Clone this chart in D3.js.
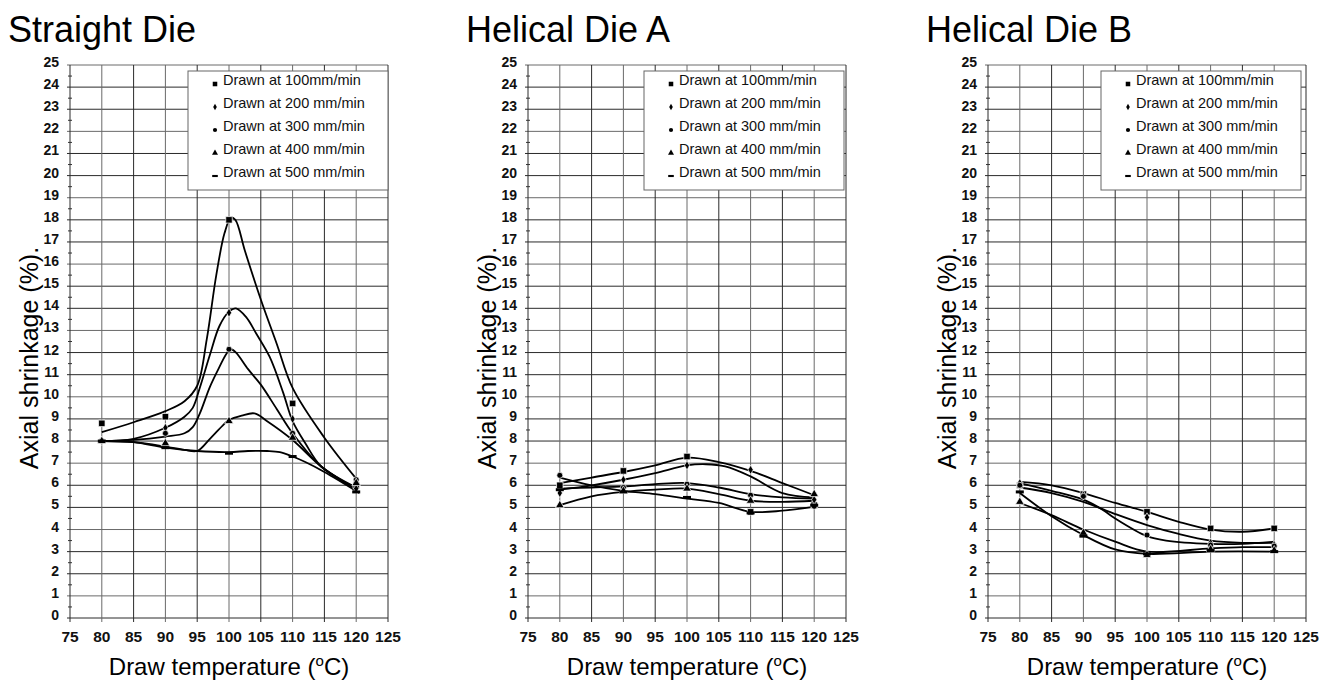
<!DOCTYPE html>
<html>
<head>
<meta charset="utf-8">
<script src="https://cdn.jsdelivr.net/npm/d3@7"></script>
<style>
  body { margin: 0; background: #fff; }
  svg { display: block; font-family: 'Liberation Sans', Arial, sans-serif; }
</style>
</head>
<body>
<div id="chart"></div>
<script>
// x / y tick values
const xTicks = [75, 80, 85, 90, 95, 100, 105, 110, 115, 120, 125];
const yTicks = [0, 1, 2, 3, 4, 5, 6, 7, 8, 9, 10, 11, 12, 13, 14, 15, 16, 17, 18, 19, 20, 21, 22, 23, 24, 25];
const temps = [80, 90, 100, 110, 120];
const seriesNames = ['Drawn at 100mm/min', 'Drawn at 200 mm/min', 'Drawn at 300 mm/min', 'Drawn at 400 mm/min', 'Drawn at 500 mm/min'];
const titles = ['Straight Die', 'Helical Die A', 'Helical Die B'];

// measured points (one row per draw speed, values at 80..120 °C)
const straightMarkers = [
  [8.8, 9.1, 18.0, 9.7, 6.0],
  [8.0, 8.6, 13.8, 9.0, 5.85],
  [8.0, 8.35, 12.15, 8.35, 6.25],
  [8.0, 7.9, 8.9, 8.15, 6.1],
  [8.0, 7.7, 7.45, 7.3, 5.7]
];
const helicalAMarkers = [
  [6.0, 6.65, 7.3, 4.8, 5.1],
  [5.65, 6.25, 6.9, 6.7, 5.35],
  [6.45, 5.9, 6.05, 5.55, 5.05],
  [5.1, 5.75, 5.85, 5.3, 5.6],
  [5.8, 5.7, 5.45, 4.75, 5.1]
];
const helicalBMarkers = [
  [6.0, 5.6, 4.8, 4.05, 4.05],
  [6.1, 5.55, 4.55, 3.4, 3.3],
  [6.0, 5.5, 3.75, 3.3, 3.25],
  [5.25, 3.85, 2.85, 3.1, 3.05],
  [5.7, 3.7, 2.9, 3.05, 3.0]
];

// smoothed curves: [temperature, shrinkage]
const straightCurves = [
  [[80, 8.4], [85, 8.85], [90, 9.35], [93, 9.8], [95, 10.5], [96.5, 12.6], [98, 15.5], [99.3, 17.4], [100.3, 18.1], [101, 18.0], [102.5, 16.6], [105, 14.4], [107.5, 12.4], [110, 10.4], [115, 8.15], [120, 6.3]],
  [[80, 8.0], [85, 8.1], [90, 8.6], [93, 9.1], [94.3, 9.5], [95.4, 10.4], [97, 11.9], [98.5, 13.2], [100, 13.85], [101.1, 14.0], [102.7, 13.6], [104.3, 12.85], [106.4, 11.8], [108.5, 10.2], [110, 8.9], [112, 7.9], [114.5, 6.85], [120, 5.85]],
  [[80, 8.0], [85, 8.05], [90, 8.2], [93, 8.35], [94.3, 8.63], [95.4, 9.24], [97, 10.45], [98.5, 11.35], [99.6, 11.95], [100.3, 12.15], [101.1, 12.0], [103, 11.25], [105, 10.55], [107.5, 9.45], [110, 8.35], [114.5, 6.85], [120, 5.9]],
  [[80, 8.0], [85, 7.95], [90, 7.75], [93, 7.6], [95, 7.55], [97, 8.1], [99, 8.7], [100, 8.95], [102, 9.15], [104, 9.25], [106, 8.9], [110, 8.05], [114.5, 6.85], [120, 5.8]],
  [[80, 8.0], [85, 7.95], [90, 7.7], [95, 7.55], [100, 7.5], [103, 7.55], [106, 7.55], [108, 7.5], [110, 7.3], [112, 7.05], [115, 6.6], [120.5, 5.65]]
];
const helicalACurves = [
  [[80, 6.1], [85, 6.35], [90, 6.6], [95, 6.9], [100, 7.25], [105, 7.05], [110, 6.65], [115, 6.1], [120, 5.55]],
  [[80, 5.8], [85, 6.0], [90, 6.25], [95, 6.55], [100, 6.9], [103, 6.95], [106, 6.85], [110, 6.4], [115, 5.65], [120, 5.45]],
  [[80, 5.85], [85, 5.9], [90, 5.95], [95, 6.05], [100, 6.1], [105, 5.9], [110, 5.6], [115, 5.45], [120, 5.4]],
  [[80, 5.1], [85, 5.5], [90, 5.7], [95, 5.8], [100, 5.85], [105, 5.6], [110, 5.3], [115, 5.25], [120, 5.3]],
  [[80, 6.35], [85, 6.0], [90, 5.75], [95, 5.6], [100, 5.4], [105, 5.2], [110, 4.8], [115, 4.85], [120.5, 5.05]]
];
const helicalBCurves = [
  [[80, 6.15], [85, 6.0], [90, 5.65], [95, 5.2], [100, 4.8], [105, 4.35], [110, 4.0], [115, 3.9], [120, 4.05]],
  [[80, 5.9], [85, 5.65], [90, 5.25], [95, 4.7], [100, 4.2], [105, 3.8], [110, 3.5], [115, 3.4], [120, 3.4]],
  [[80, 6.1], [85, 5.75], [90, 5.35], [93, 4.9], [95, 4.5], [100, 3.7], [103, 3.5], [110, 3.35], [115, 3.35], [120, 3.45]],
  [[80, 5.2], [85, 4.65], [90, 4.0], [95, 3.45], [100, 3.0], [110, 3.15], [115, 3.2], [120, 3.2]],
  [[80, 5.65], [85, 4.6], [90, 3.75], [95, 3.1], [100, 2.9], [110, 3.0], [120.5, 3.0]]
];

const markerSets = [straightMarkers, helicalAMarkers, helicalBMarkers];
const curveSets = [straightCurves, helicalACurves, helicalBCurves];

const width = 1334, height = 681;
const panelLeft = [70, 528, 988];
const plotW = 318;
const legendInset = [0, 2, 5];

const svg = d3.select('#chart').append('svg')
  .attr('width', width)
  .attr('height', height);

const y = d3.scaleLinear().domain([0, 25]).range([618, 65]);

const symbolTypes = [d3.symbolSquare, d3.symbolDiamond, d3.symbolCircle, d3.symbolTriangle, null];
const symbolSizes = [42, 24, 28, 32, 0];

function drawMarker(g, i, cx, cy, scale) {
  if (i === 4) {
    g.append('rect')
      .attr('x', cx - 4 * scale).attr('y', cy - 1.5 * scale)
      .attr('width', 8 * scale).attr('height', 3 * scale)
      .attr('fill', '#000');
  } else {
    g.append('path')
      .attr('transform', `translate(${cx},${cy})`)
      .attr('d', d3.symbol().type(symbolTypes[i]).size(symbolSizes[i] * scale * scale)())
      .attr('fill', '#000')
      .attr('stroke', '#fff')
      .attr('stroke-width', scale < 1 ? 0 : 0.7);
  }
}

titles.forEach((title, p) => {
  const left = panelLeft[p];
  const x = d3.scaleLinear().domain([75, 125]).range([left, left + plotW]);
  const g = svg.append('g');

  // gridlines
  g.append('g').selectAll('line')
    .data(yTicks)
    .enter().append('line')
    .attr('x1', left - 3).attr('x2', x(125))
    .attr('y1', d => y(d)).attr('y2', d => y(d))
    .attr('stroke', (d, i) => i % 3 === 1 ? '#6a6a6a' : '#2a2a2a')
    .attr('stroke-width', 1);
  g.append('g').selectAll('line')
    .data(xTicks)
    .enter().append('line')
    .attr('x1', d => x(d)).attr('x2', d => x(d))
    .attr('y1', y(25)).attr('y2', y(0) + 4)
    .attr('stroke', (d, i) => i % 2 === 1 ? '#6a6a6a' : '#2a2a2a')
    .attr('stroke-width', 1);

  // minor ticks on y axis
  g.append('g').selectAll('line')
    .data(yTicks.slice(0, -1))
    .enter().append('line')
    .attr('x1', left - 2).attr('x2', left + 2)
    .attr('y1', d => y(d + 0.5)).attr('y2', d => y(d + 0.5))
    .attr('stroke', '#333');

  // tick labels
  g.append('g').selectAll('text')
    .data(yTicks)
    .enter().append('text')
    .attr('x', left - 11)
    .attr('y', d => y(d) + 2)
    .attr('text-anchor', 'end')
    .attr('font-size', 14)
    .attr('font-weight', 'bold')
    .attr('fill', '#111')
    .text(d => d);
  g.append('g').selectAll('text')
    .data(xTicks)
    .enter().append('text')
    .attr('x', d => x(d))
    .attr('y', 642)
    .attr('text-anchor', 'middle')
    .attr('font-size', 15.5)
    .attr('font-weight', 'bold')
    .attr('fill', '#111')
    .text(d => d);

  // titles
  g.append('text')
    .attr('x', left - 62).attr('y', 42)
    .attr('font-size', 36)
    .text(title);

  const xt = g.append('text')
    .attr('x', left + plotW / 2).attr('y', 675)
    .attr('text-anchor', 'middle')
    .attr('font-size', 24);
  xt.append('tspan').text('Draw temperature (');
  xt.append('tspan').attr('font-size', 15).attr('dy', -9).text('o');
  xt.append('tspan').attr('dy', 9).text('C)');

  g.append('text')
    .attr('transform', `translate(${left - 32},${358}) rotate(-90)`)
    .attr('text-anchor', 'middle')
    .attr('font-size', 25)
    .text('Axial shrinkage (%).');

  // curves
  const line = d3.line()
    .x(d => x(d[0]))
    .y(d => y(d[1]))
    .curve(d3.curveCatmullRom.alpha(0.5));
  g.append('g').selectAll('path')
    .data(curveSets[p])
    .enter().append('path')
    .attr('d', line)
    .attr('fill', 'none')
    .attr('stroke', '#000')
    .attr('stroke-width', 1.8);

  // markers
  const mg = g.append('g');
  markerSets[p].forEach((vals, i) => {
    vals.forEach((v, k) => drawMarker(mg, i, x(temps[k]), y(v), 1));
  });

  // legend
  const lx1 = x(125) - legendInset[p];
  const lx0 = lx1 - 200;
  const lg = g.append('g');
  lg.append('rect')
    .attr('x', lx0).attr('y', 71)
    .attr('width', lx1 - lx0).attr('height', 119)
    .attr('fill', '#fff')
    .attr('stroke', '#666')
    .attr('stroke-width', 1);
  seriesNames.forEach((name, i) => {
    const cy = 80 + i * 23;
    drawMarker(lg, i, lx0 + 27, cy + 4, 0.7);
    lg.append('text')
      .attr('x', lx0 + 35).attr('y', cy + 5)
      .attr('font-size', 14.5)
      .attr('fill', '#111')
      .text(name);
  });
});
</script>
</body>
</html>
